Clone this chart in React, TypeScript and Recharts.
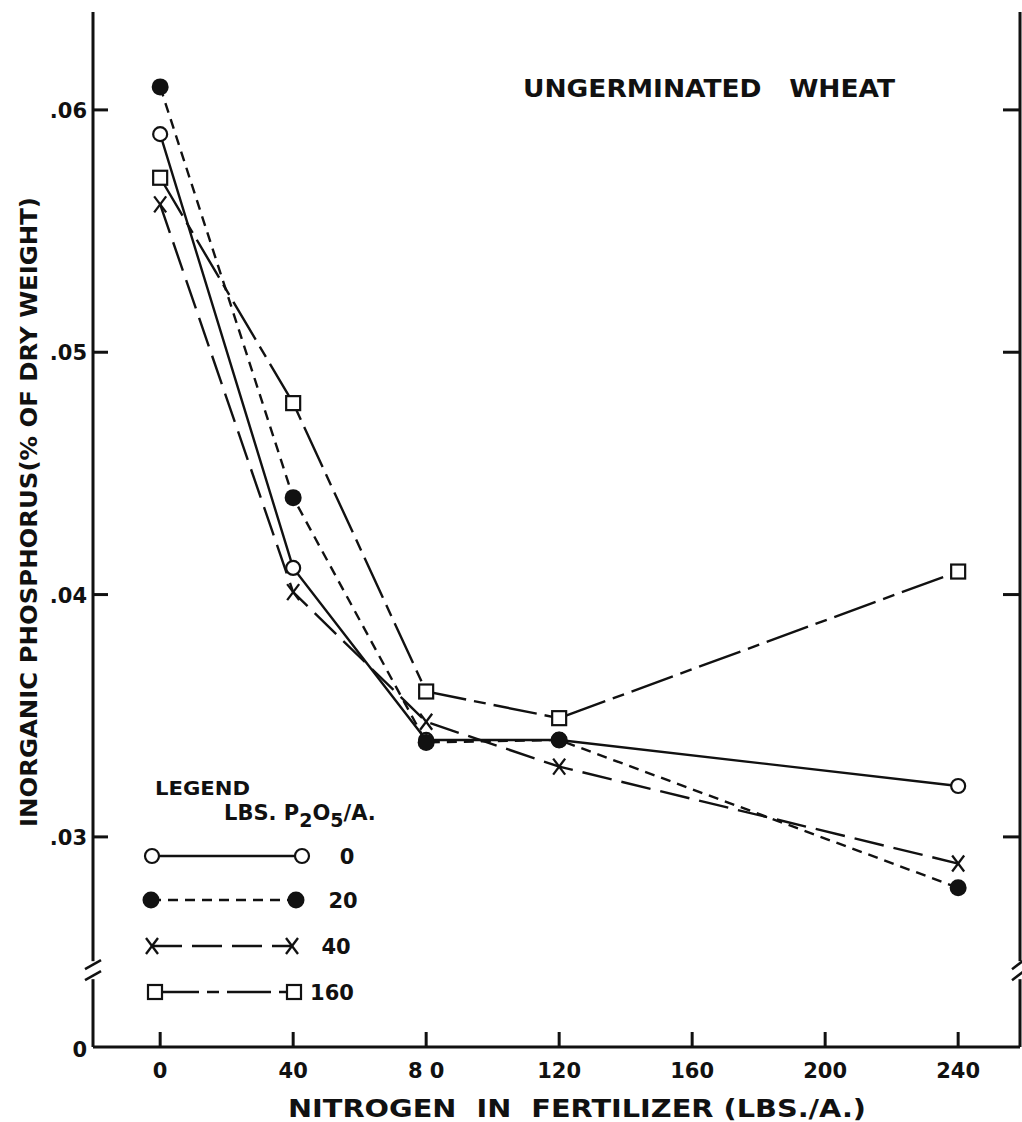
import { Legend, Line, LineChart, XAxis, YAxis } from 'recharts';

// nitrogen rates (lbs/A) and inorganic P (% dry weight) per P2O5 level
const N_RATES = [0, 40, 80, 120, 240];
const P0 = [0.059, 0.0411, 0.034, 0.034, 0.0321];
const P20 = [0.06095, 0.044, 0.0339, 0.034, 0.0279];
const P40 = [0.0561, 0.0401, 0.03475, 0.0329, 0.0289];
const P160 = [0.0572, 0.0479, 0.036, 0.0349, 0.04095];

const X_TICKS = [0, 40, 80, 120, 160, 200, 240];
const X_TICK_LABELS = ['0', '40', '8 0', '120', '160', '200', '240'];
const Y_MIN = 0.02133;
const Y_MAX = 0.06404;
const X_MIN = -20.2;
const X_MAX = 258.6;
const Y_TICKS = [Y_MIN, 0.03, 0.04, 0.05, 0.06];
const Y_TICK_LABELS = ['0', '.03', '.04', '.05', '.06'];
const RIGHT_TICKS = [0.03, 0.04, 0.05, 0.06];
const LEGEND_LABELS = ['0', '20', '40', '160'];

const data = N_RATES.map((n, i) => ({ n, p0: P0[i], p20: P20[i], p40: P40[i], p160: P160[i] }));

const W = 1022;
const H = 1122;
const MARGIN = { top: 12, right: 0, bottom: 0, left: 13 };
const Y_AXIS_W = 80;
const RIGHT_AXIS_W = 2;
const X_AXIS_H = 75;
const PLOT_TOP = MARGIN.top;
const PLOT_BOTTOM = H - MARGIN.bottom - X_AXIS_H;
const PLOT_LEFT = MARGIN.left + Y_AXIS_W;
const PLOT_RIGHT = W - MARGIN.right - RIGHT_AXIS_W;
const FONT = '"DejaVu Sans", sans-serif';
const INK = '#111';

type Kind = 'open' | 'filled' | 'cross' | 'square';

const SERIES: { key: string; kind: Kind; dash?: string }[] = [
  { key: 'p160', kind: 'square', dash: '44 8 12 8' },
  { key: 'p40', kind: 'cross', dash: '30 10' },
  { key: 'p0', kind: 'open' },
  { key: 'p20', kind: 'filled', dash: '10 7' },
];
const LEGEND_ORDER: Kind[] = ['open', 'filled', 'cross', 'square'];
const LEGEND_DASH: Record<Kind, string | undefined> = {
  open: undefined,
  filled: '10 7',
  cross: '30 10',
  square: '44 8 12 8',
};

function Marker({ kind, cx, cy }: { kind: Kind; cx: number; cy: number }) {
  if (kind === 'open') return <circle cx={cx} cy={cy} r={7} fill="#fff" stroke={INK} strokeWidth={2.2} />;
  if (kind === 'filled') return <circle cx={cx} cy={cy} r={8.5} fill={INK} />;
  if (kind === 'square')
    return <rect x={cx - 7} y={cy - 7} width={14} height={14} fill="#fff" stroke={INK} strokeWidth={2.2} />;
  return (
    <g stroke={INK} strokeWidth={2.3}>
      <line x1={cx - 6} y1={cy - 8} x2={cx + 6} y2={cy + 8} />
      <line x1={cx + 6} y1={cy - 8} x2={cx - 6} y2={cy + 8} />
    </g>
  );
}

function BottomTick({ x, y, index }: any) {
  return (
    <g>
      <line x1={x} y1={y} x2={x} y2={y - 15} stroke={INK} strokeWidth={3} />
      <text x={x} y={y + 31} textAnchor="middle" fontFamily={FONT} fontSize={21} fontWeight="bold" fill={INK}>
        {X_TICK_LABELS[index]}
      </text>
    </g>
  );
}

function TopTick({ x, y }: any) {
  return <line x1={x} y1={y} x2={x} y2={y + 14} stroke={INK} strokeWidth={3} />;
}

function LeftTick({ x, y, index }: any) {
  return (
    <g>
      {index > 0 && <line x1={x} y1={y} x2={x + 15} y2={y} stroke={INK} strokeWidth={3} />}
      <text
        x={x - 6}
        y={index === 0 ? y + 10 : y + 8}
        textAnchor="end"
        fontFamily={FONT}
        fontSize={21}
        fontWeight="bold"
        fill={INK}
      >
        {Y_TICK_LABELS[index]}
      </text>
    </g>
  );
}

function RightTick({ x, y }: any) {
  return <line x1={x} y1={y} x2={x - 17} y2={y} stroke={INK} strokeWidth={3} />;
}

function LegendBox() {
  const rows = [856, 900, 946, 992];
  const ends: Record<Kind, [number, number]> = {
    open: [152, 302],
    filled: [151, 296],
    cross: [152, 292],
    square: [155, 294],
  };
  const labelX = [347, 343, 336, 332];
  const ox = 140;
  const oy = 770;
  return (
    <svg width={260} height={250} style={{ overflow: 'visible', display: 'block' }}>
      <g transform={`translate(${-ox},${-oy})`} fontFamily={FONT} fill={INK} fontWeight="bold">
        <text x={155} y={795} fontSize={19} textLength={95} lengthAdjust="spacingAndGlyphs">
          LEGEND
        </text>
        <text x={224} y={820} fontSize={21}>
          LBS. P<tspan dy={7} fontSize={19}>2</tspan>
          <tspan dy={-7}>O</tspan>
          <tspan dy={7} fontSize={19}>5</tspan>
          <tspan dy={-7}>/A.</tspan>
        </text>
        {LEGEND_ORDER.map((kind, i) => {
          const [a, b] = ends[kind];
          return (
            <g key={kind}>
              <line
                x1={a}
                y1={rows[i]}
                x2={b}
                y2={rows[i]}
                stroke={INK}
                strokeWidth={2.4}
                strokeDasharray={LEGEND_DASH[kind]}
              />
              <Marker kind={kind} cx={a} cy={rows[i]} />
              <Marker kind={kind} cx={b} cy={rows[i]} />
              <text x={labelX[i]} y={rows[i] + 8} textAnchor="middle" fontSize={21}>
                {LEGEND_LABELS[i]}
              </text>
            </g>
          );
        })}
      </g>
    </svg>
  );
}

function yPix(v: number) {
  return PLOT_TOP + ((Y_MAX - v) / (Y_MAX - Y_MIN)) * (PLOT_BOTTOM - PLOT_TOP);
}

function Overlay() {
  const breakY = yPix(0.0245);
  return (
    <svg width={W} height={H} style={{ position: 'absolute', left: 0, top: 0, pointerEvents: 'none' }}>
      <text
        x={523}
        y={97}
        fontFamily={FONT}
        fontSize={24}
        fontWeight="bold"
        fill={INK}
        textLength={372}
        lengthAdjust="spacingAndGlyphs"
      >
        UNGERMINATED&#160;&#160;&#160;WHEAT
      </text>
      <text
        x={577}
        y={1117}
        textAnchor="middle"
        fontFamily={FONT}
        fontSize={25}
        fontWeight="bold"
        fill={INK}
        textLength={578}
        lengthAdjust="spacingAndGlyphs"
      >
        NITROGEN&#160;&#160;IN&#160;&#160;FERTILIZER&#160;(LBS./A.)
      </text>
      <text
        transform={`translate(37,512) rotate(-90)`}
        textAnchor="middle"
        fontFamily={FONT}
        fontSize={23}
        fontWeight="bold"
        fill={INK}
        textLength={630}
        lengthAdjust="spacingAndGlyphs"
      >
        INORGANIC PHOSPHORUS(% OF DRY WEIGHT)
      </text>
      {/* axis breaks */}
      <rect x={PLOT_LEFT - 4} y={breakY - 9} width={8} height={18} fill="#fff" />
      <line x1={PLOT_LEFT - 8} y1={breakY - 1} x2={PLOT_LEFT + 8} y2={breakY - 10} stroke={INK} strokeWidth={2.5} />
      <line x1={PLOT_LEFT - 8} y1={breakY + 10} x2={PLOT_LEFT + 8} y2={breakY + 1} stroke={INK} strokeWidth={2.5} />
      <rect x={PLOT_RIGHT - 4} y={breakY - 9} width={8} height={18} fill="#fff" />
      <line x1={PLOT_RIGHT - 8} y1={breakY - 1} x2={PLOT_RIGHT + 4} y2={breakY - 10} stroke={INK} strokeWidth={2.5} />
      <line x1={PLOT_RIGHT - 8} y1={breakY + 10} x2={PLOT_RIGHT + 4} y2={breakY + 1} stroke={INK} strokeWidth={2.5} />
    </svg>
  );
}

export default function App() {
  const axisLine = { stroke: INK, strokeWidth: 3 };
  return (
    <div style={{ position: 'absolute', left: 0, top: 0, width: W, height: H, background: '#fff' }}>
      <LineChart width={W} height={H} data={data} margin={MARGIN}>
        <XAxis
          dataKey="n"
          type="number"
          domain={[X_MIN, X_MAX]}
          ticks={X_TICKS}
          interval={0}
          allowDataOverflow
          height={X_AXIS_H}
          axisLine={axisLine}
          tickLine={false}
          tickSize={0}
          tickMargin={0}
          tick={<BottomTick />}
        />
        <XAxis
          xAxisId="top"
          orientation="top"
          type="number"
          domain={[X_MIN, X_MAX]}
          ticks={X_TICKS}
          interval={0}
          allowDataOverflow
          height={0}
          axisLine={axisLine}
          tickLine={false}
          tickSize={0}
          tickMargin={0}
          tick={<TopTick />}
        />
        <YAxis
          type="number"
          domain={[Y_MIN, Y_MAX]}
          ticks={Y_TICKS}
          interval={0}
          allowDataOverflow
          width={Y_AXIS_W}
          axisLine={axisLine}
          tickLine={false}
          tickSize={0}
          tickMargin={0}
          tick={<LeftTick />}
        />
        <YAxis
          yAxisId="right"
          orientation="right"
          type="number"
          domain={[Y_MIN, Y_MAX]}
          ticks={RIGHT_TICKS}
          interval={0}
          allowDataOverflow
          width={RIGHT_AXIS_W}
          axisLine={axisLine}
          tickLine={false}
          tickSize={0}
          tickMargin={0}
          tick={<RightTick />}
        />
        <Legend
          layout="vertical"
          align="center"
          verticalAlign="middle"
          content={() => <LegendBox />}
          wrapperStyle={{ position: 'absolute', left: 140, top: 770, width: 260, height: 250 }}
        />
        {SERIES.map((s) => (
          <Line
            key={s.key}
            dataKey={s.key}
            type="linear"
            stroke={INK}
            strokeWidth={2.4}
            strokeDasharray={s.dash}
            isAnimationActive={false}
            dot={(p: any) => <Marker key={`${s.key}-${p.index}`} kind={s.kind} cx={p.cx} cy={p.cy} />}
            activeDot={false}
          />
        ))}
      </LineChart>
      <Overlay />
    </div>
  );
}
